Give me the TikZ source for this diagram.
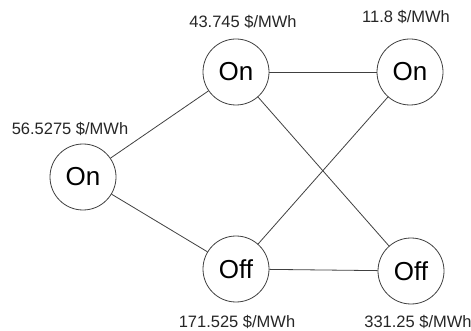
\documentclass[tikz,border=0pt]{standalone}
\usepackage{fontspec}
\setmainfont{Liberation Sans}
\begin{document}
\begin{tikzpicture}[x=1pt,y=-1pt,
  state/.style={circle,draw=black!75,line width=0.8pt,minimum size=66pt,inner sep=0pt,font=\fontsize{26}{30}\selectfont},
  price/.style={font=\fontsize{16.5}{19}\selectfont,text=black!85,inner sep=0pt},
  link/.style={draw=black!75,line width=0.8pt}]
\useasboundingbox (0,0) rectangle (471,331);
\node[state] (s0) at (83,177) {On};
\node[state] (s1) at (236,72) {On};
\node[state] (s2) at (236,269) {Off};
\node[state] (s3) at (410,72) {On};
\node[state] (s4) at (411,271) {Off};
\node[price] (p0) at (70,129) {56.5275 \$/MWh};
\node[price] (p1) at (243,22) {43.745 \$/MWh};
\node[price] (p2) at (237,322) {171.525 \$/MWh};
\node[price] (p3) at (406,17) {11.8 \$/MWh};
\node[price] (p4) at (418,322) {331.25 \$/MWh};
\draw[link] (s0) -- (s1);
\draw[link] (s0) -- (s2);
\draw[link] (s1) -- (s3);
\draw[link] (s1) -- (s4);
\draw[link] (s2) -- (s3);
\draw[link] (s2) -- (s4);
\end{tikzpicture}
\end{document}
